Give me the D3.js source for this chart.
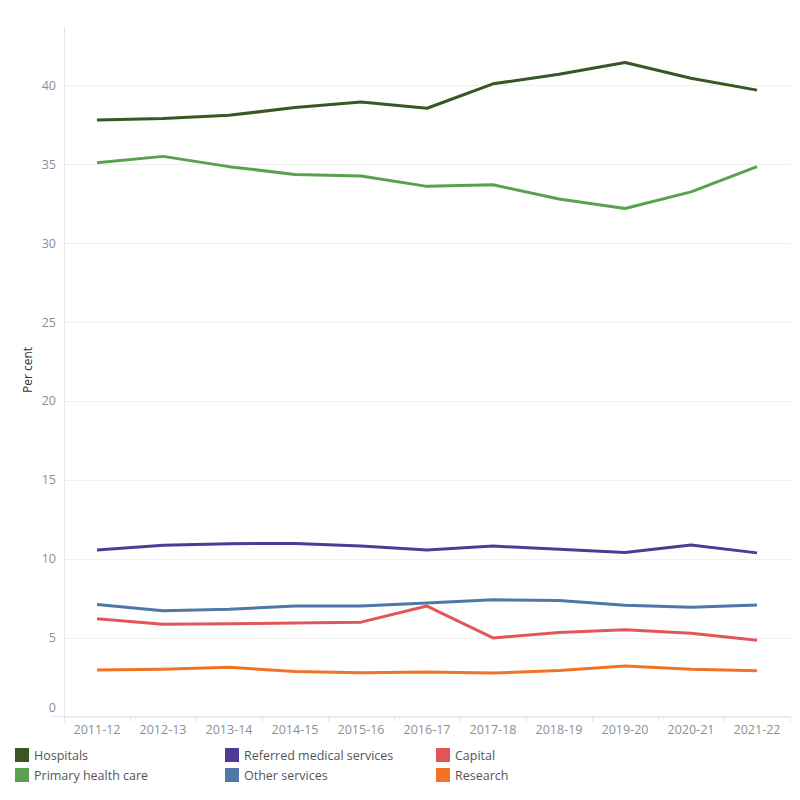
<!DOCTYPE html>
<html>
<head>
<meta charset="utf-8">
<script src="https://cdn.jsdelivr.net/npm/d3@7"></script>
<style>
  body { margin: 0; background: #fff; }
  text { font-family: "Open Sans", "Noto Sans", sans-serif; }
</style>
</head>
<body>
<svg id="chart" width="800" height="800"></svg>
<script>
const years = ["2011-12","2012-13","2013-14","2014-15","2015-16","2016-17","2017-18","2018-19","2019-20","2020-21","2021-22"];
const seriesNames = ["Hospitals","Primary health care","Referred medical services","Other services","Capital","Research"];
const seriesColors = ["#385723","#59a14f","#4f3a96","#4e79a7","#e15759","#f37325"];

const hospitals = [37.8, 37.9, 38.1, 38.6, 38.95, 38.55, 40.1, 40.7, 41.45, 40.45, 39.7];
const primaryCare = [35.1, 35.5, 34.85, 34.35, 34.25, 33.6, 33.7, 32.8, 32.2, 33.25, 34.85];
const referred = [10.55, 10.85, 10.95, 10.97, 10.8, 10.55, 10.8, 10.6, 10.4, 10.87, 10.37];
const otherServices = [7.1, 6.7, 6.8, 7.0, 7.0, 7.2, 7.4, 7.35, 7.05, 6.93, 7.07];
const capital = [6.2, 5.85, 5.88, 5.92, 5.98, 7.0, 4.98, 5.33, 5.5, 5.27, 4.83];
const research = [2.95, 3.0, 3.12, 2.85, 2.78, 2.82, 2.75, 2.92, 3.2, 3.0, 2.9];

const yTicks = [0, 5, 10, 15, 20, 25, 30, 35, 40];

const allSeries = [hospitals, primaryCare, referred, otherServices, capital, research];

const svg = d3.select("#chart");
const pLeft = 64, pRight = 790, pTop = 27, pBottom = 716.5;

const x = d3.scaleBand().domain(years).range([pLeft, pRight]);
const y = d3.scaleLinear().domain([0, 43.7]).range([pBottom, pTop]);

// gridlines
svg.append("g").selectAll("line").data(yTicks).join("line")
  .attr("x1", pLeft).attr("x2", pRight)
  .attr("y1", d => Math.round(y(d)) + 0.5).attr("y2", d => Math.round(y(d)) + 0.5)
  .attr("stroke", "#efefef").attr("stroke-width", 1);

// axis lines
svg.append("line").attr("x1", pLeft + 0.5).attr("x2", pLeft + 0.5).attr("y1", pTop).attr("y2", pBottom + 6)
  .attr("stroke", "#e6e6e6");
svg.append("line").attr("x1", pLeft - 12).attr("x2", pRight).attr("y1", 716.5).attr("y2", 716.5)
  .attr("stroke", "#e6e6e6");

// y tick labels (the zero label sits a little above its gridline, as in the original)
svg.append("g").selectAll("text").data(yTicks).join("text")
  .attr("x", 56).attr("y", d => y(d) + (d === 0 ? -4.5 : 4.5))
  .attr("text-anchor", "end")
  .attr("font-size", 12.5).attr("fill", "#8a8f96")
  .text(d => d);

svg.append("text")
  .attr("transform", "translate(32," + 370 + ") rotate(-90)")
  .attr("text-anchor", "middle")
  .attr("font-size", 12).attr("fill", "#333")
  .text("Per cent");

// x band dividers and labels
svg.append("g").selectAll("line").data(years.concat(["end"])).join("line")
  .attr("x1", (d, i) => Math.round(pLeft + i * x.bandwidth()) + 0.5)
  .attr("x2", (d, i) => Math.round(pLeft + i * x.bandwidth()) + 0.5)
  .attr("y1", 716).attr("y2", 722)
  .attr("stroke", "#e6e6e6");

svg.append("g").selectAll("text").data(years).join("text")
  .attr("x", d => x(d) + x.bandwidth() / 2)
  .attr("y", 734)
  .attr("text-anchor", "middle")
  .attr("font-size", 12.5).attr("fill", "#8a8f96")
  .text(d => d);

// lines
const line = d3.line()
  .x((d, i) => x(years[i]) + x.bandwidth() / 2)
  .y(d => y(d));

svg.append("g").selectAll("path").data(allSeries).join("path")
  .attr("d", line)
  .attr("fill", "none")
  .attr("stroke", (d, i) => seriesColors[i])
  .attr("stroke-width", 3)
  .attr("stroke-linejoin", "round");

// legend
const legendPos = [[15, 748], [15, 768], [225, 748], [225, 768], [436, 748], [436, 768]];
const lg = svg.append("g").selectAll("g").data(seriesNames).join("g")
  .attr("transform", (d, i) => "translate(" + legendPos[i][0] + "," + legendPos[i][1] + ")");
lg.append("rect").attr("width", 14).attr("height", 14).attr("fill", (d, i) => seriesColors[i]);
lg.append("text").attr("x", 19).attr("y", 12).attr("font-size", 12.5).attr("fill", "#555")
  .text(d => d);
</script>
</body>
</html>
